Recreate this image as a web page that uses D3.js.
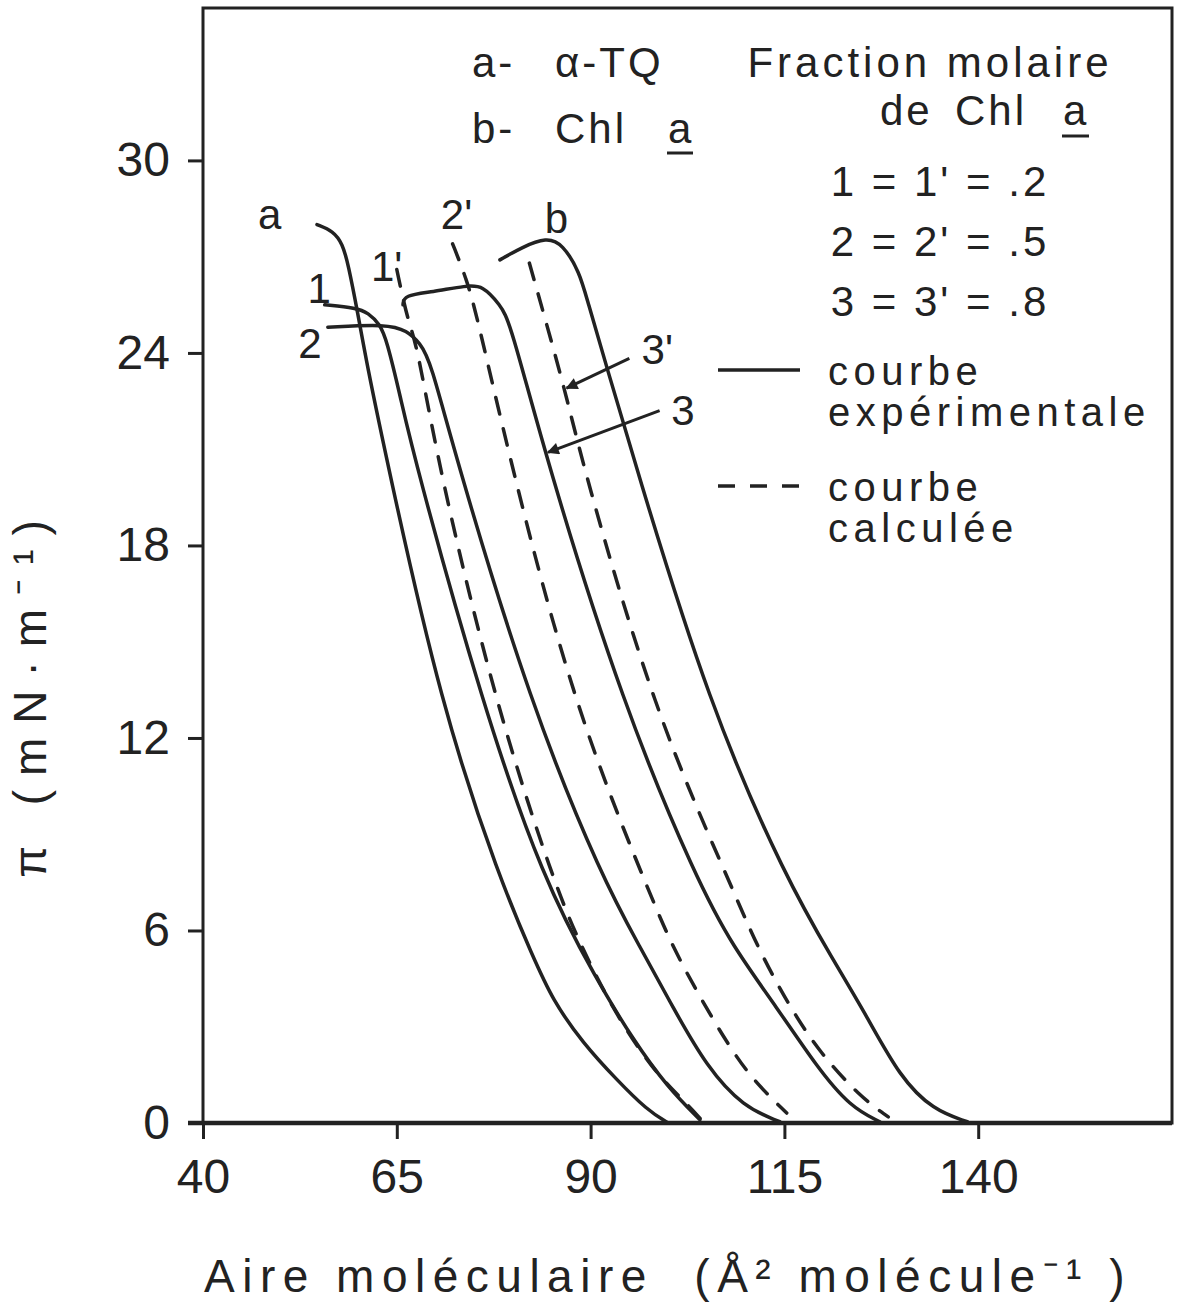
<!DOCTYPE html>
<html>
<head>
<meta charset="utf-8">
<script src="https://cdn.jsdelivr.net/npm/d3@7"></script>
<style>
  body { margin: 0; background: #fff; }
  text { font-family: "Liberation Sans", Arial, sans-serif; fill: #222; }
</style>
</head>
<body>
<div id="chart"></div>
<script>
// isothermes pi-A: [aire (Å²/molécule), pression (mN/m)]
const curveA = [[54.7,28.0],[56.8,27.8],[58.0,27.4],[58.7,26.8],[60.0,25.2],[61.1,23.7],[63.7,20.65],[70.7,13.0],[78.3,7.57],[82.6,5.17],[85.1,3.83],[89.0,2.49],[93.4,1.34],[97.3,0.4],[100.0,0]]
const curve1 = [[55.7,25.5],[59.8,25.4],[61.3,25.25],[62.8,24.9],[63.7,24.4],[65.4,22.7],[67.3,20.65],[76.1,13.0],[83.9,7.57],[90.8,4.45],[95.5,2.59],[99.9,1.12],[104.1,0.1]]
const curve1p = [[65.0,26.6],[66.4,25.0],[67.6,24.3],[70.5,20.3],[77.9,12.9],[85.4,7.41],[88.6,5.6],[92.9,3.52],[98.0,1.65],[102.2,0.65],[104.3,0.1]]
const curve2 = [[56.1,24.8],[63.7,24.9],[66.3,24.7],[68.0,24.3],[69.3,23.8],[72.7,20.65],[82.3,13.0],[91.6,7.57],[96.4,5.48],[100.6,3.61],[105.0,1.74],[109.7,0.5],[114.4,0.04]]
const curve2p = [[72.2,27.4],[74.0,26.3],[75.3,25.2],[79.6,20.65],[87.8,13.0],[97.7,7.1],[100.6,5.48],[104.1,3.93],[107.6,2.49],[110.9,1.34],[115.3,0.31]]
const curve3 = [[65.8,25.5],[65.9,25.8],[69.6,25.9],[74.0,26.1],[76.1,26.1],[78.3,25.5],[79.6,25.0],[84.3,20.65],[94.2,13.0],[103.7,7.57],[108.4,5.48],[114.0,3.61],[119.2,1.74],[123.5,0.5],[127.3,0.04]]
const curve3p = [[82.1,26.8],[86.9,22.7],[88.8,20.65],[98.2,12.8],[108.0,7.48],[111.5,5.48],[115.7,3.61],[119.6,2.18],[124.8,0.81],[128.4,0.19]]
const curveB = [[78.3,26.9],[81.2,27.3],[84.3,27.6],[86.4,27.4],[88.6,26.5],[89.5,25.7],[92.1,23.55],[95.6,20.65],[105.3,13.0],[115.3,7.57],[121.3,5.08],[125.7,3.3],[129.9,1.43],[134.2,0.4],[138.6,0.04]]

const series = [
  { name: 'a', pts: curveA, dashed: false },
  { name: '1', pts: curve1, dashed: false },
  { name: "1'", pts: curve1p, dashed: true },
  { name: '2', pts: curve2, dashed: false },
  { name: "2'", pts: curve2p, dashed: true },
  { name: '3', pts: curve3, dashed: false },
  { name: "3'", pts: curve3p, dashed: true },
  { name: 'b', pts: curveB, dashed: false }
]

// étiquettes des courbes [texte, aire, pression]
const curveLabels = [['a',48.6,28.3],["1'",63.7,26.7],["2'",72.7,28.3],['b',85.6,28.2],['1',55.0,26.0],['2',53.8,24.3],["3'",98.6,24.1],['3',101.9,22.2]]
// flèches [x queue, y queue, x tête, y tête]
const arrows = [[95.0,23.83,86.9,22.9],[98.9,22.2,84.5,20.9]]

const xTicks = [40, 65, 90, 115, 140]
const yTicks = [0, 6, 12, 18, 24, 30]

const W = 1178, H = 1306
const m = { left: 203, top: 8, right: 6, bottom: 183 }

const svg = d3.select('#chart').append('svg')
  .attr('width', W).attr('height', H)

const x = d3.scaleLinear().domain([40, 165]).range([m.left, W - m.right])
const y = d3.scaleLinear().domain([0, 34.75]).range([H - m.bottom, m.top])

svg.append('defs').append('marker')
  .attr('id', 'head')
  .attr('viewBox', '0 0 10 10')
  .attr('refX', 9).attr('refY', 5)
  .attr('markerWidth', 5).attr('markerHeight', 4)
  .attr('markerUnits', 'strokeWidth')
  .attr('orient', 'auto')
  .append('path').attr('d', 'M0,0L10,5L0,10z').attr('fill', '#222')

// cadre
svg.append('rect')
  .attr('x', x(40)).attr('y', y(34.75))
  .attr('width', x(165) - x(40)).attr('height', y(0) - y(34.75))
  .attr('fill', 'none').attr('stroke', '#222').attr('stroke-width', 3)

const yAxis = svg.append('g')
  .attr('transform', `translate(${m.left},0)`)
  .call(d3.axisLeft(y).tickValues(yTicks).tickSize(15).tickPadding(18))
yAxis.select('.domain').remove()
yAxis.selectAll('line').attr('stroke', '#222').attr('stroke-width', 3)
yAxis.selectAll('text').attr('font-size', 48).attr('fill', '#222')

const xAxis = svg.append('g')
  .attr('transform', `translate(0,${y(0)})`)
  .call(d3.axisBottom(x).tickValues(xTicks).tickSize(16).tickPadding(20))
xAxis.select('.domain').remove()
xAxis.selectAll('line').attr('stroke', '#222').attr('stroke-width', 3)
xAxis.selectAll('text').attr('font-size', 48).attr('fill', '#222')

svg.append('line')
  .attr('x1', x(40) - 15).attr('x2', x(165))
  .attr('y1', y(0)).attr('y2', y(0))
  .attr('stroke', '#222').attr('stroke-width', 4.5)

// lissage des points lus à la main
const line = d3.line()
  .x(d => x(d[0]))
  .y(d => y(d[1]))
  .curve(d3.curveBasis)

svg.append('g').selectAll('path')
  .data(series)
  .join('path')
  .attr('d', d => line(d.pts))
  .attr('fill', 'none')
  .attr('stroke', '#222')
  .attr('stroke-width', 3.5)
  .attr('stroke-linecap', 'round')
  .attr('stroke-dasharray', d => d.dashed ? '17 15' : null)

svg.append('g').selectAll('line')
  .data(arrows)
  .join('line')
  .attr('x1', d => x(d[0])).attr('y1', d => y(d[1]))
  .attr('x2', d => x(d[2])).attr('y2', d => y(d[3]))
  .attr('stroke', '#222').attr('stroke-width', 3)
  .attr('marker-end', 'url(#head)')

svg.append('g').selectAll('text')
  .data(curveLabels)
  .join('text')
  .attr('x', d => x(d[1])).attr('y', d => y(d[2]))
  .attr('text-anchor', 'middle')
  .attr('dominant-baseline', 'central')
  .attr('font-size', 42)
  .text(d => d[0])

// légende
const leg = svg.append('g').attr('font-size', 42).attr('letter-spacing', 3)
leg.append('text').attr('x', 472).attr('y', 77).text('a-')
leg.append('text').attr('x', 555).attr('y', 77).text('α-TQ')
leg.append('text').attr('x', 472).attr('y', 143).text('b-')
leg.append('text').attr('x', 555).attr('y', 143).text('Chl')
leg.append('text').attr('x', 668).attr('y', 143).text('a')
leg.append('line').attr('x1', 667).attr('x2', 693).attr('y1', 153).attr('y2', 153)
  .attr('stroke', '#222').attr('stroke-width', 3)
leg.append('text').attr('x', 930).attr('y', 77).attr('text-anchor', 'middle').attr('letter-spacing', 4).text('Fraction molaire')
leg.append('text').attr('x', 880).attr('y', 125).text('de')
leg.append('text').attr('x', 955).attr('y', 125).text('Chl')
leg.append('text').attr('x', 1063).attr('y', 125).text('a')
leg.append('line').attr('x1', 1062).attr('x2', 1089).attr('y1', 136).attr('y2', 136)
  .attr('stroke', '#222').attr('stroke-width', 3)
leg.append('text').attr('x', 940).attr('y', 196).attr('text-anchor', 'middle').text("1 = 1' = .2")
leg.append('text').attr('x', 940).attr('y', 256).attr('text-anchor', 'middle').text("2 = 2' = .5")
leg.append('text').attr('x', 940).attr('y', 316).attr('text-anchor', 'middle').text("3 = 3' = .8")

const leg2 = svg.append('g').attr('font-size', 40).attr('letter-spacing', 5.5)
leg2.append('line').attr('x1', 718).attr('x2', 800).attr('y1', 370).attr('y2', 370)
  .attr('stroke', '#222').attr('stroke-width', 3.5)
leg2.append('text').attr('x', 828).attr('y', 385).text('courbe')
leg2.append('text').attr('x', 828).attr('y', 426).text('expérimentale')
leg2.append('line').attr('x1', 718).attr('x2', 800).attr('y1', 486).attr('y2', 486)
  .attr('stroke', '#222').attr('stroke-width', 3.5).attr('stroke-dasharray', '17 15')
leg2.append('text').attr('x', 828).attr('y', 501).text('courbe')
leg2.append('text').attr('x', 828).attr('y', 542).text('calculée')

// titres des axes
svg.append('text')
  .attr('transform', 'translate(46,692) rotate(-90)')
  .attr('text-anchor', 'middle')
  .attr('font-size', 46).attr('letter-spacing', 14)
  .text('π (mN·m⁻¹)')

svg.append('text')
  .attr('x', 668).attr('y', 1292)
  .attr('text-anchor', 'middle')
  .attr('font-size', 46).attr('letter-spacing', 7.5)
  .text('Aire moléculaire\u00a0\u00a0(Å² molécule⁻¹ )')
</script>
</body>
</html>
